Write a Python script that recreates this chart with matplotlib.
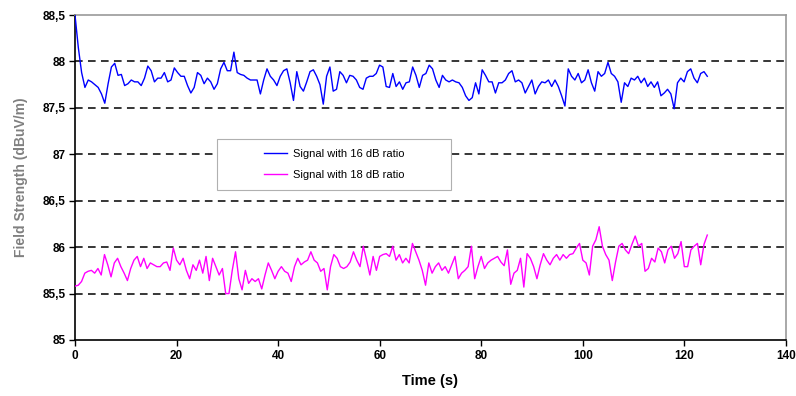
import numpy as np
import matplotlib
matplotlib.use('Agg')
import matplotlib.pyplot as plt
from matplotlib.patches import Rectangle
from matplotlib.ticker import FuncFormatter

signal_16db = [
    88.50, 88.15, 87.88, 87.72, 87.80, 87.78, 87.75, 87.72, 87.65, 87.55,
    87.76, 87.94, 87.98, 87.85, 87.86, 87.74, 87.76, 87.80, 87.78, 87.78,
    87.74, 87.82, 87.95, 87.90, 87.78, 87.82, 87.82, 87.88, 87.78, 87.80,
    87.93, 87.88, 87.84, 87.84, 87.74, 87.66, 87.72, 87.88, 87.85, 87.76,
    87.82, 87.78, 87.70, 87.76, 87.92, 87.99, 87.90, 87.90, 88.10, 87.88,
    87.86, 87.85, 87.82, 87.80, 87.80, 87.80, 87.65, 87.80, 87.92, 87.84,
    87.80, 87.74, 87.84, 87.90, 87.92,
    87.77, 87.58, 87.89, 87.73, 87.68, 87.78, 87.89, 87.91, 87.84, 87.75,
    87.54, 87.84, 87.94, 87.68, 87.70, 87.89, 87.85, 87.77, 87.85, 87.84,
    87.80, 87.72, 87.70, 87.82, 87.84, 87.84, 87.87, 87.96, 87.94, 87.73,
    87.72, 87.87, 87.73, 87.78, 87.70, 87.77, 87.78, 87.94, 87.85, 87.72,
    87.85, 87.87, 87.96, 87.92, 87.80, 87.72, 87.85, 87.80, 87.78, 87.80,
    87.78, 87.77, 87.72, 87.63, 87.58, 87.61, 87.77, 87.65, 87.91, 87.85,
    87.78, 87.78, 87.66, 87.77,
    87.77, 87.80, 87.87, 87.90, 87.78, 87.80, 87.77, 87.66, 87.73, 87.80,
    87.65, 87.73, 87.78, 87.77, 87.80, 87.73, 87.80, 87.73, 87.63, 87.52,
    87.92, 87.84, 87.80, 87.87, 87.77, 87.80, 87.91, 87.77, 87.68, 87.89,
    87.84, 87.87, 87.99, 87.87, 87.84, 87.78, 87.56, 87.77, 87.73, 87.82,
    87.80, 87.84, 87.77, 87.82, 87.73, 87.78, 87.72, 87.78, 87.63, 87.66,
    87.70, 87.65, 87.49, 87.77, 87.82, 87.78, 87.89, 87.92, 87.82, 87.77,
    87.87, 87.89, 87.84,
]

signal_18db = [
    85.58, 85.59, 85.63, 85.72, 85.74, 85.75, 85.72, 85.77, 85.70, 85.92,
    85.81, 85.68, 85.83, 85.88, 85.79, 85.72, 85.64, 85.77, 85.86, 85.90,
    85.79, 85.88, 85.77, 85.83, 85.81, 85.79, 85.79, 85.83, 85.84, 85.75,
    85.99, 85.86, 85.81, 85.88, 85.75, 85.66, 85.81, 85.75, 85.86, 85.72,
    85.90, 85.64, 85.88, 85.79, 85.70, 85.77, 85.50, 85.50, 85.75, 85.95,
    85.66, 85.54, 85.75, 85.61, 85.66, 85.63, 85.66, 85.55, 85.70, 85.83,
    85.75, 85.66, 85.74, 85.79, 85.74, 85.72,
    85.63, 85.79, 85.88, 85.81, 85.84, 85.86, 85.95, 85.86, 85.83, 85.74,
    85.77, 85.54, 85.79, 85.92, 85.88, 85.79, 85.77, 85.79, 85.84, 85.95,
    85.86, 85.79, 86.01, 85.86, 85.70, 85.90, 85.75, 85.90, 85.92, 85.93,
    85.90, 86.01, 85.86, 85.92, 85.83, 85.88, 85.83, 86.04, 85.95, 85.86,
    85.75, 85.59, 85.83, 85.72, 85.79, 85.83, 85.75, 85.79, 85.72, 85.81,
    85.90, 85.66, 85.72, 85.75, 85.79, 86.01, 85.66, 85.79, 85.90, 85.77,
    85.83, 85.86, 85.88, 85.90,
    85.84, 85.80, 85.97, 85.60, 85.72,
    85.75, 85.88, 85.57, 85.93, 85.88, 85.79, 85.66, 85.81, 85.93, 85.86,
    85.81, 85.88, 85.92, 85.86, 85.92, 85.88, 85.92, 85.93, 85.99, 86.04,
    85.86, 85.83, 85.70, 86.01, 86.08, 86.22, 86.01, 85.92, 85.86, 85.64,
    85.84, 86.01, 86.04, 85.97, 85.93, 86.03, 86.12, 86.01, 86.04, 85.74,
    85.77, 85.88, 85.84, 85.99, 85.95, 85.83, 85.97, 86.01, 85.88, 85.93,
    86.06, 85.79, 85.79, 85.97, 86.01, 86.04, 85.81, 86.03, 86.13,
]

t_end = 124.5
t16 = np.linspace(0, t_end, len(signal_16db))
t18 = np.linspace(0, t_end, len(signal_18db))

labels = ['Signal with 16 dB ratio', 'Signal with 18 dB ratio']
yticks = [85, 85.5, 86, 86.5, 87, 87.5, 88, 88.5]
xticks = [0, 20, 40, 60, 80, 100, 120, 140]

plt.rcParams['font.family'] = ['Liberation Sans', 'DejaVu Sans']

fig = plt.figure(figsize=(7.96, 3.96), dpi=100)
ax = fig.add_axes([75 / 796, 1 - 340 / 396, 711 / 796, 325 / 396])

# dashed horizontal gridlines (Excel style)
for y in yticks[1:-1]:
    ax.axhline(y, color='black', lw=1.1, ls=(0, (5, 3.5)), zorder=1)

l1, = ax.plot(t16, signal_16db, color='#0000FF', lw=1.0, zorder=3)
l2, = ax.plot(t18, signal_18db, color='#FF00FF', lw=1.0, zorder=3)

ax.set_xlim(0, 140)
ax.set_ylim(85, 88.5)
ax.set_xticks(xticks)
ax.set_yticks(yticks)
ax.yaxis.set_major_formatter(FuncFormatter(lambda v, p: ('%g' % v).replace('.', ',')))
ax.tick_params(direction='out', length=4, width=1, labelsize=8.5, pad=3)
for lab in ax.get_xticklabels() + ax.get_yticklabels():
    lab.set_fontweight('bold')

for s in ['left', 'bottom']:
    ax.spines[s].set_color('black')
    ax.spines[s].set_linewidth(1.2)
for s in ['top', 'right']:
    ax.spines[s].set_color('#9a9a9a')
    ax.spines[s].set_linewidth(1.2)

ax.set_xlabel('Time (s)', fontsize=10.5, fontweight='bold', labelpad=9)
ax.set_ylabel('Field Strength (dBuV/m)', fontsize=10, fontweight='bold',
              color='#808080', labelpad=10)

# legend box
box = Rectangle((217 / 796, 1 - 190 / 396), 234 / 796, 51 / 396,
                transform=fig.transFigure, facecolor='white',
                edgecolor='#b0b0b0', lw=0.8, zorder=5)
fig.patches.append(box)
leg = fig.legend([l1, l2], labels, loc='center',
                 bbox_to_anchor=(334 / 796, 1 - 164.5 / 396),
                 frameon=False, fontsize=8, handlelength=2.1,
                 labelspacing=1.0, handletextpad=0.5)
leg.set_zorder(6)

fig.savefig('out.png', dpi=100)
